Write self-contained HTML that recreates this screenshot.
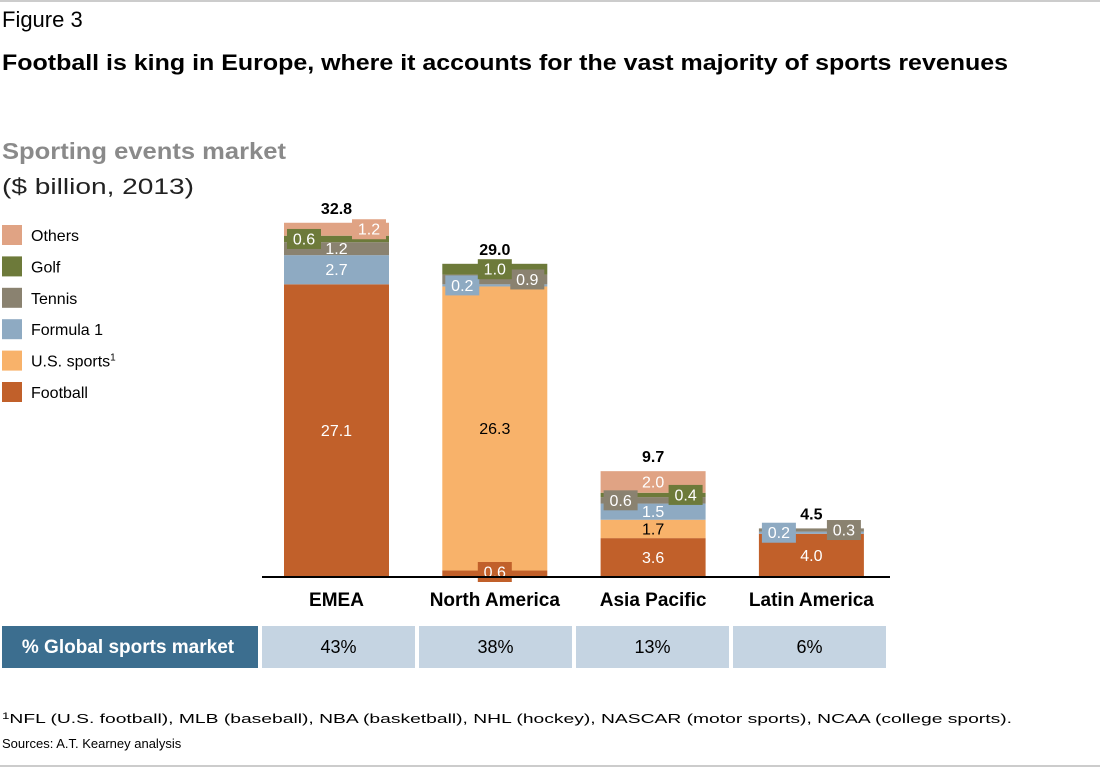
<!DOCTYPE html>
<html><head><meta charset="utf-8"><style>
body{margin:0;width:1100px;height:768px;background:#fff;font-family:"Liberation Sans",sans-serif;overflow:hidden}
svg text{font-family:"Liberation Sans",sans-serif}
</style></head><body>
<svg id="c" width="1100" height="768">
<line x1="0" y1="1" x2="1100" y2="1" stroke="#999"/>
<text x="2" y="27" font-size="22" fill="#000">Figure 3</text>
<text x="2" y="70" font-size="22" font-weight="bold" fill="#000" textLength="1006" lengthAdjust="spacingAndGlyphs">Football is king in Europe, where it accounts for the vast majority of sports revenues</text>
<text x="2" y="159" font-size="23" font-weight="bold" fill="#8a8a8a" textLength="284" lengthAdjust="spacingAndGlyphs">Sporting events market</text>
<text x="2" y="194" font-size="22" fill="#222" textLength="192" lengthAdjust="spacingAndGlyphs">($ billion, 2013)</text>
<g id="legend"></g>
<g id="bars"></g>
<line x1="262" y1="577" x2="890" y2="577" stroke="#000" stroke-width="2"/>
<g id="table"></g>
<text x="2" y="723" font-size="13" fill="#000" textLength="1010" lengthAdjust="spacingAndGlyphs"><tspan font-size="9" dy="-4">1</tspan><tspan dy="4">NFL (U.S. football), MLB (baseball), NBA (basketball), NHL (hockey), NASCAR (motor sports), NCAA (college sports).</tspan></text>
<text x="2" y="748" font-size="13" fill="#000">Sources: A.T. Kearney analysis</text>
<line x1="0" y1="766" x2="1100" y2="766" stroke="#999"/>
</svg>
<script>
const categories=["EMEA","North America","Asia Pacific","Latin America"];
const seriesNames=["Football","U.S. sports","Formula 1","Tennis","Golf","Others"];
const football=[27.1,0.6,3.6,4.0];
const usSports=[0,26.3,1.7,0];
const formula1=[2.7,0.2,1.5,0.2];
const tennis=[1.2,0.9,0.6,0.3];
const golf=[0.6,1.0,0.4,0];
const others=[1.2,0,2.0,0];
const totals=["32.8","29.0","9.7","4.5"];
const shares=["43%","38%","13%","6%"];
const colors=["#c1602a","#f8b26a","#8eaac2","#8a8270","#6d7a3a","#e0a384"];
const series=[football,usSports,formula1,tennis,golf,others];
const place=[["i","","i","i","l","r"],["c","i","l","r","c",""],["i","i","i","l","r","i"],["i","","l","r","",""]];
const NS="http://www.w3.org/2000/svg";
const base=577,scale=10.8,x0=284,step=158.3,bw=105;
const y=v=>base-v*scale;
function mk(t,a,p){const e=document.createElementNS(NS,t);for(const k in a)e.setAttribute(k,a[k]);p.appendChild(e);return e;}
const bars=document.getElementById('bars');
categories.forEach((cat,i)=>{
  const bx=x0+i*step;let cum=0;
  const labels=[];
  series.forEach((s,j)=>{
    const v=s[i];if(!v){return;}
    const r=mk('rect',{x:bx,y:y(cum+v),width:bw,height:v*scale,fill:colors[j]},bars);
    
    
    labels.push([j,v,cum]);cum+=v;
  });
  labels.forEach(([j,v,c])=>{
    const p=place[i][j];let cy=y(c+v/2);
    let tx=bx+bw/2;
    if(p!=="i"){
      if(c===0) cy=Math.min(cy,base-5);
      tx=p==="l"?bx+20:p==="r"?bx+bw-20:bx+bw/2;
      const b=mk('rect',{x:tx-17,y:cy-10,width:34,height:20,fill:colors[j]},bars);
      
      
    }
    const t=mk('text',{x:tx,y:cy+5.5,'text-anchor':'middle','font-size':16,fill:j===1?'#000':'#fff'},bars);
    t.textContent=v.toFixed(1);
    
    
  });
  const tt=mk('text',{x:bx+bw/2,y:y(cum)-9,'text-anchor':'middle','font-size':16,'font-weight':'bold'},bars);
  tt.textContent=totals[i];
  
  
  const cl=mk('text',{x:bx+bw/2,y:606,'text-anchor':'middle','font-size':19,'font-weight':'bold'},bars);
  cl.textContent=cat;
  
  
});
const lg=document.getElementById('legend');
const order=[5,4,3,2,1,0];
order.forEach((j,k)=>{
  const ly=235+k*31.4;
  const r=mk('rect',{x:2,y:ly-10,width:20,height:20,fill:colors[j]},lg);
  
  
  const t=mk('text',{x:31,y:ly+6,'font-size':16},lg);
  t.textContent=seriesNames[j];
  if(j===1){const s=mk('tspan',{'font-size':10,dy:-6},t);s.textContent='1';}
  
  
});
const tb=document.getElementById('table');
const h=mk('rect',{x:2,y:626,width:256,height:42,fill:'#3c6e8f'},tb);


const ht=mk('text',{x:128,y:653,'text-anchor':'middle','font-size':19,'font-weight':'bold',fill:'#fff'},tb);
ht.textContent='% Global sports market';


shares.forEach((s,i)=>{
  const cx=262+i*157;
  const r=mk('rect',{x:cx,y:626,width:153,height:42,fill:'#c5d4e2'},tb);
  
  
  const t=mk('text',{x:cx+76.5,y:653,'text-anchor':'middle','font-size':18},tb);
  t.textContent=s;
  
  
});
</script>
</body></html>
